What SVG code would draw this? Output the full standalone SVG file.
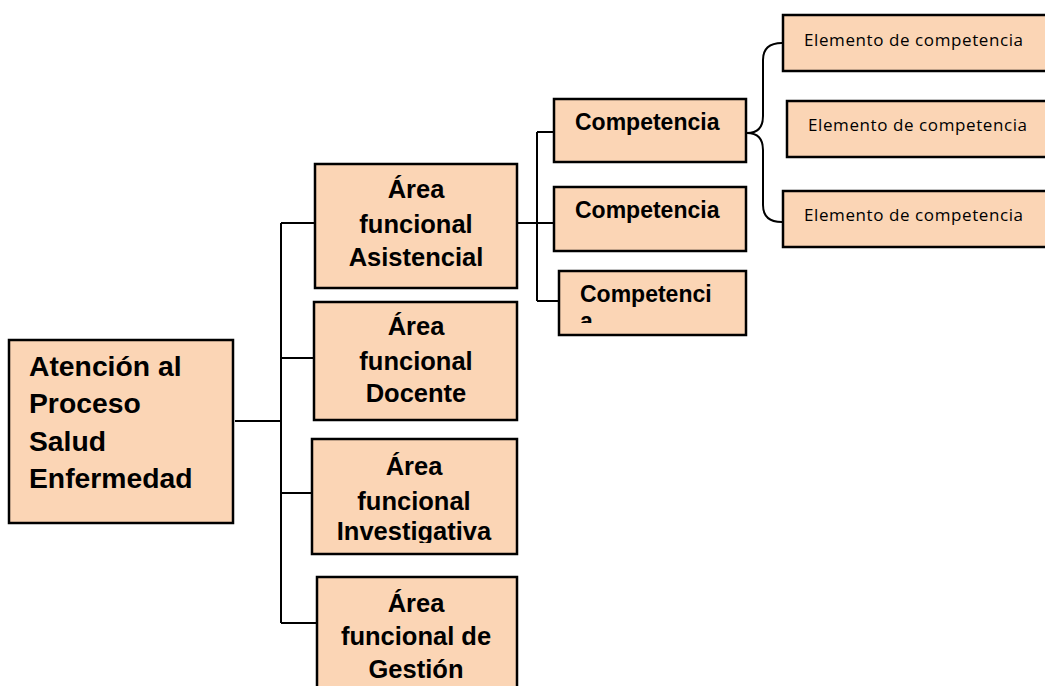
<svg xmlns="http://www.w3.org/2000/svg" width="1045" height="686" viewBox="0 0 1045 686">
<style>
.box{fill:#FBD5B5;stroke:#000;stroke-width:2.5}
.t{font-family:"Liberation Sans",Arial,sans-serif;font-weight:bold;fill:#000}
.main{font-size:28.3px}
.area{font-size:25.5px;text-anchor:middle}
.comp{font-size:23px}
.el{font-family:"Open Sans","Noto Sans",sans-serif;font-size:17px;fill:#000}
.c{fill:none;stroke:#000;stroke-width:2}
</style>
<defs>
<clipPath id="clipInv"><rect x="312" y="439" width="205" height="104"/></clipPath>
<clipPath id="clipComp3"><rect x="559" y="271" width="187" height="52"/></clipPath>
</defs>
<rect width="1045" height="686" fill="#fff"/>
<g id="connectors">
<path class="c" d="M235 421 H281 M281 223 V623 M281 223 H315 M281 358 H314 M281 493 H315 M281 623 H317"/>
<path class="c" d="M517 223 H553 M537 132 V301 M537 132 H554 M537 301 H559"/>
<path class="c" d="M782 43 Q763 43 763 60 V116 Q763 133 747 133 Q763 133 763 150 V205 Q763 222 782 222"/>
</g>
<g id="node-main">
<rect class="box" x="9" y="340" width="224" height="183"/>
<text class="t main" x="29" y="376">Atención al</text>
<text class="t main" x="29" y="413">Proceso</text>
<text class="t main" x="29" y="451">Salud</text>
<text class="t main" x="29" y="488">Enfermedad</text>
</g>
<g id="node-asistencial">
<rect class="box" x="315" y="164" width="202" height="124"/>
<text class="t area" x="416" y="198">Área</text>
<text class="t area" x="416" y="233">funcional</text>
<text class="t area" x="416" y="266">Asistencial</text>
</g>
<g id="node-docente">
<rect class="box" x="314" y="302" width="203" height="118"/>
<text class="t area" x="416" y="335">Área</text>
<text class="t area" x="416" y="370">funcional</text>
<text class="t area" x="416" y="402">Docente</text>
</g>
<g id="node-investigativa">
<rect class="box" x="312" y="439" width="205" height="115"/>
<g clip-path="url(#clipInv)">
<text class="t area" x="414" y="475">Área</text>
<text class="t area" x="414" y="510">funcional</text>
<text class="t area" x="414" y="540">Investigativa</text>
</g>
</g>
<g id="node-gestion">
<rect class="box" x="317" y="577" width="200" height="130"/>
<text class="t area" x="416" y="612">Área</text>
<text class="t area" x="416" y="645">funcional de</text>
<text class="t area" x="416" y="678">Gestión</text>
</g>
<g id="node-comp1">
<rect class="box" x="554" y="99" width="192" height="63"/>
<text class="t comp" x="575" y="130">Competencia</text>
</g>
<g id="node-comp2">
<rect class="box" x="554" y="187" width="192" height="64"/>
<text class="t comp" x="575" y="218">Competencia</text>
</g>
<g id="node-comp3">
<rect class="box" x="559" y="271" width="187" height="64"/>
<g clip-path="url(#clipComp3)">
<text class="t comp" x="580" y="302">Competenci</text>
<text class="t comp" x="580" y="329">a</text>
</g>
</g>
<g id="node-el1">
<rect class="box" x="783" y="15" width="270" height="56"/>
<text class="el" x="804" y="46" textLength="219">Elemento de competencia</text>
</g>
<g id="node-el2">
<rect class="box" x="787" y="101" width="266" height="56"/>
<text class="el" x="808" y="131" textLength="219">Elemento de competencia</text>
</g>
<g id="node-el3">
<rect class="box" x="783" y="191" width="270" height="56"/>
<text class="el" x="804" y="221" textLength="219">Elemento de competencia</text>
</g>
</svg>
